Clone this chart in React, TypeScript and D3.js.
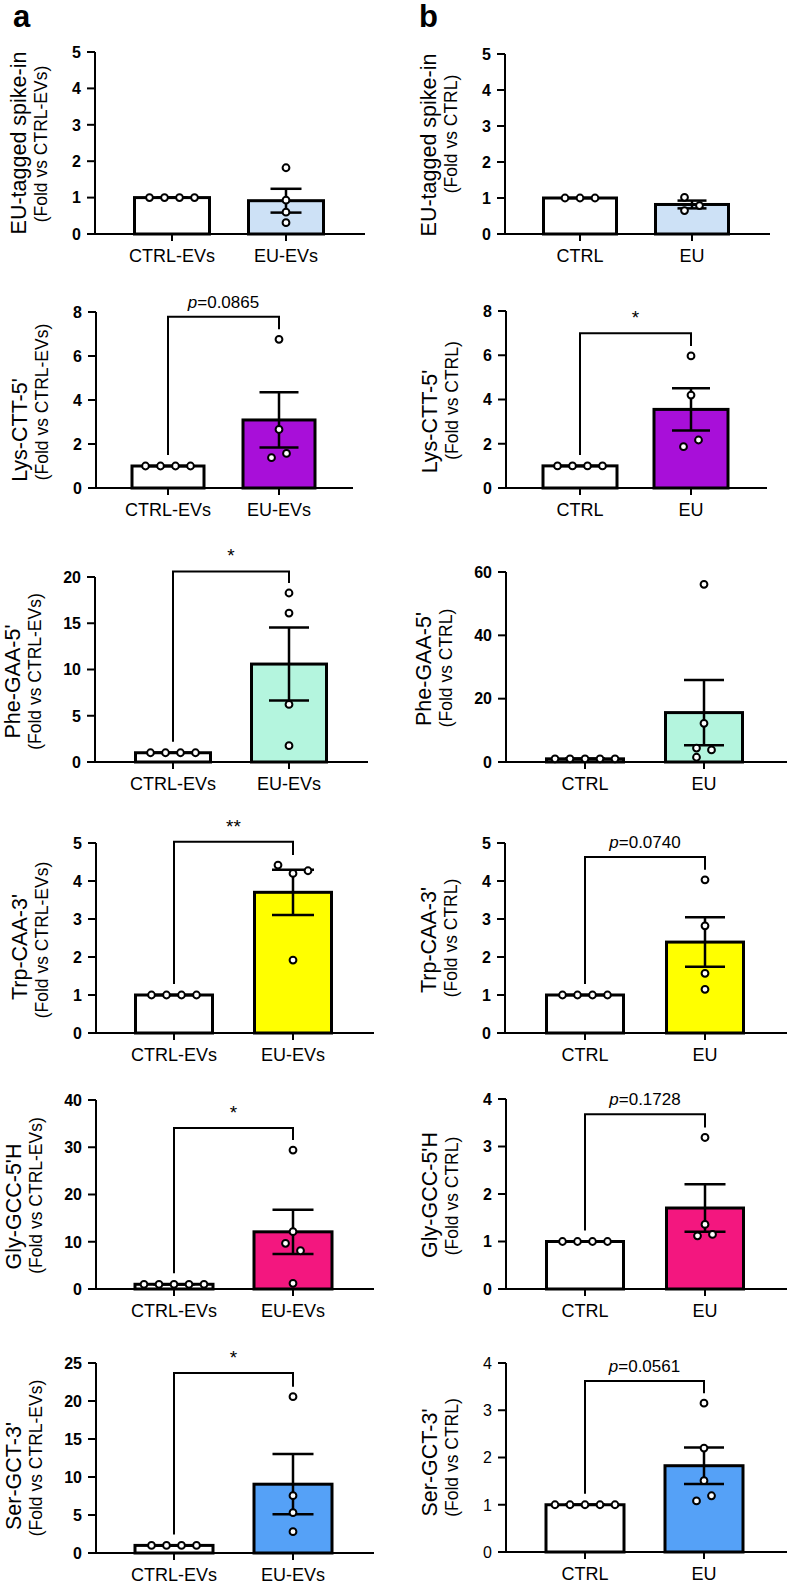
import React from "react";
import * as d3 from "d3";

// ---------------- DATA ----------------
const categoriesA = ["CTRL-EVs", "EU-EVs"];
const categoriesB = ["CTRL", "EU"];
const targets = ["EU-tagged spike-in", "Lys-CTT-5'", "Phe-GAA-5'", "Trp-CAA-3'", "Gly-GCC-5'H", "Ser-GCT-3'"];
const refLabelA = "(Fold vs CTRL-EVs)";
const refLabelB = "(Fold vs CTRL)";
const barColors = ["#cde1f6", "#a80fd9", "#b4f5de", "#ffff00", "#f3177f", "#55a1f7"];

const yMaxA = [5, 8, 20, 5, 40, 25];
const yStepA = [1, 2, 5, 1, 10, 5];
const yMaxB = [5, 8, 60, 5, 4, 4];
const yStepB = [1, 2, 20, 1, 1, 1];

const ctrlA = [
  [1, 1, 1, 1],
  [1, 1, 1, 1],
  [1, 1, 1, 1],
  [1, 1, 1, 1],
  [1, 1, 1, 1, 1],
  [1, 1, 1, 1],
];
const euA = [
  [1.82, 0.93, 0.6, 0.31],
  [6.76, 2.66, 1.38, 1.57],
  [18.27, 16.1, 6.22, 1.76],
  [4.42, 4.2, 4.27, 1.92],
  [29.4, 12.13, 9.67, 8.1, 1.2],
  [20.57, 7.54, 5.3, 2.8],
];
const ctrlB = [
  [1, 1, 1],
  [1, 1, 1, 1],
  [1, 1, 1, 1, 1],
  [1, 1, 1, 1],
  [1, 1, 1, 1],
  [1, 1, 1, 1, 1],
];
const euB = [
  [1.02, 0.79, 0.65],
  [5.97, 4.2, 1.87, 2.17],
  [56.1, 12.2, 4.4, 3.8, 1.5],
  [4.03, 2.82, 1.57, 1.15],
  [3.19, 1.36, 1.12, 1.15],
  [3.15, 2.2, 1.51, 1.08, 1.19],
];

const sigA = [null, "p=0.0865", "*", "**", "*", "*"];
const sigTopA = [null, 7.78, 20.6, 5.03, 34.1, 23.7];
const sigB = [null, "*", null, "p=0.0740", "p=0.1728", "p=0.0561"];
const sigTopB = [null, 7.0, null, 4.63, 3.68, 3.62];
const boldTicksB = [true, true, true, true, true, false];

// ---------------- LAYOUT ----------------
type Layout = {
  x0: number; xEnd: number; c1: number; c2: number; bw: number;
  yTop: number; yBot: number; capW: number; mainShift: number; subShift: number;
};
const layoutA: Layout[] = [
  { x0: 95, xEnd: 365, c1: 172, c2: 286, bw: 75, yTop: 52, yBot: 234, capW: 31, mainShift: 0, subShift: 1 },
  { x0: 96, xEnd: 353, c1: 168, c2: 279, bw: 72, yTop: 312, yBot: 488, capW: 39, mainShift: 30, subShift: 2 },
  { x0: 95, xEnd: 368, c1: 173, c2: 289, bw: 75, yTop: 577, yBot: 762, capW: 40, mainShift: 12, subShift: 2 },
  { x0: 96, xEnd: 374, c1: 174, c2: 293, bw: 77, yTop: 843, yBot: 1033, capW: 42, mainShift: 9, subShift: 2 },
  { x0: 96, xEnd: 374, c1: 174, c2: 293, bw: 78, yTop: 1100, yBot: 1289, capW: 41, mainShift: 12, subShift: 1 },
  { x0: 96, xEnd: 374, c1: 174, c2: 293, bw: 78, yTop: 1363, yBot: 1553, capW: 41, mainShift: 18, subShift: 0 },
];
const layoutB: Layout[] = [
  { x0: 505, xEnd: 770, c1: 580, c2: 692, bw: 73, yTop: 54, yBot: 234, capW: 29, mainShift: 1, subShift: -10 },
  { x0: 506, xEnd: 767, c1: 580, c2: 691, bw: 74, yTop: 311, yBot: 488, capW: 38, mainShift: 22, subShift: 1 },
  { x0: 506, xEnd: 790, c1: 585, c2: 704, bw: 77, yTop: 572, yBot: 762, capW: 40, mainShift: 2, subShift: 1 },
  { x0: 505, xEnd: 790, c1: 585, c2: 705, bw: 77, yTop: 843, yBot: 1033, capW: 40, mainShift: 2, subShift: 0 },
  { x0: 506, xEnd: 790, c1: 585, c2: 705, bw: 77, yTop: 1099, yBot: 1289, capW: 41, mainShift: 1, subShift: 2 },
  { x0: 506, xEnd: 790, c1: 585, c2: 704, bw: 78, yTop: 1363, yBot: 1552, capW: 40, mainShift: 5, subShift: 0 },
];

const FONT = "'Liberation Sans', Arial, Helvetica, sans-serif";

function swarmOffsets(ys: number[], thr: number, step: number): number[] {
  const n = ys.length;
  const off = new Array(n).fill(0);
  if (n === 0) return off;
  const idx = d3.range(n).sort((i, j) => ys[i] - ys[j]);
  const clusters: number[][] = [];
  let cur = [idx[0]];
  for (let k = 1; k < n; k++) {
    if (ys[idx[k]] - ys[idx[k - 1]] < thr) cur.push(idx[k]);
    else { clusters.push(cur); cur = [idx[k]]; }
  }
  clusters.push(cur);
  for (const cl of clusters) {
    if (cl.length === 1) continue;
    const sy = cl.map((i) => ys[i]).sort((a, b) => a - b);
    let kmax = 1;
    for (let i = 0; i < sy.length; i++) {
      let c = 0;
      for (let j = i; j < sy.length; j++) if (sy[j] - sy[i] < thr) c++;
      kmax = Math.max(kmax, c);
    }
    const colOff = d3.range(kmax).map((j) => (j - (kmax - 1) / 2) * step);
    const placed: number[][] = colOff.map(() => []);
    const members = [...cl].sort((a, b) => a - b);
    for (const m of members) {
      let c = placed.findIndex((col) => col.every((yy) => Math.abs(yy - ys[m]) >= thr));
      if (c < 0) {
        colOff.push((colOff.length - (kmax - 1) / 2) * step);
        placed.push([]);
        c = placed.length - 1;
      }
      placed[c].push(ys[m]);
      off[m] = colOff[c];
    }
  }
  return off;
}

type PanelProps = {
  L: Layout; categories: string[]; groups: number[][]; yMax: number; yStep: number;
  color: string; title: string; refLabel: string; sig: string | null; sigTop: number | null; boldTicks: boolean;
};

function Panel({ L, categories, groups, yMax, yStep, color, title, refLabel, sig, sigTop, boldTicks }: PanelProps) {
  const y = d3.scaleLinear().domain([0, yMax]).range([L.yBot, L.yTop]);
  const x = d3.scalePoint<string>().domain(categories).range([L.c1, L.c2]);
  const ticks = d3.range(0, yMax + yStep / 2, yStep);
  const twoDigit = String(yMax).length > 1;
  const subX = L.x0 - (twoDigit ? 54 : 48);
  const mainX = subX - 21;
  const mid = (L.yTop + L.yBot) / 2;

  const stats = groups.map((vals) => {
    const m = d3.mean(vals) ?? 0;
    const sd = d3.deviation(vals) ?? 0;
    return { mean: m, sem: sd / Math.sqrt(vals.length) };
  });

  const sigEl = (() => {
    if (!sig || sigTop == null) return null;
    const x1 = x(categories[0])!;
    const x2 = x(categories[1])!;
    const yt = y(sigTop);
    const yl = y(d3.max(groups[0])!) - 11;
    const yr = y(d3.max(groups[1])!) - 10;
    const isP = sig.startsWith("p");
    return (
      <g>
        <path d={`M${x1},${yl}V${yt}H${x2}V${yr}`} fill="none" stroke="#000" strokeWidth={2} />
        <text x={(x1 + x2) / 2} y={yt - 9} textAnchor="middle" fontSize={isP ? 17 : 19} fontFamily={FONT}>
          {isP ? (<><tspan fontStyle="italic">p</tspan>{sig.slice(1)}</>) : sig}
        </text>
      </g>
    );
  })();

  return (
    <g>
      {categories.map((c, i) => (
        <rect key={c} x={x(c)! - L.bw / 2} y={y(stats[i].mean)} width={L.bw}
          height={y(0) - y(stats[i].mean)} fill={i === 0 ? "#fff" : color} stroke="#000" strokeWidth={3} />
      ))}
      <line x1={L.x0} x2={L.x0} y1={L.yTop} y2={L.yBot} stroke="#000" strokeWidth={2} />
      {ticks.map((t) => (
        <g key={t}>
          <line x1={L.x0 - 8} x2={L.x0} y1={y(t)} y2={y(t)} stroke="#000" strokeWidth={2} />
          <text x={L.x0 - 14} y={y(t)} dy="0.36em" textAnchor="end" fontSize={16}
            fontWeight={boldTicks ? "bold" : "normal"} fontFamily={FONT}>{t}</text>
        </g>
      ))}
      <line x1={L.x0 - 8} x2={L.xEnd} y1={L.yBot} y2={L.yBot} stroke="#000" strokeWidth={2} />
      {categories.map((c) => (
        <g key={c}>
          <line x1={x(c)} x2={x(c)} y1={L.yBot} y2={L.yBot + 7} stroke="#000" strokeWidth={2} />
          <text x={x(c)} y={L.yBot + 28} textAnchor="middle" fontSize={18} fontFamily={FONT}>{c}</text>
        </g>
      ))}
      {categories.map((c, i) => {
        const cx = x(c)!;
        const { mean, sem } = stats[i];
        const yu = y(mean + sem), yd = y(mean - sem);
        return (
          <g key={c} stroke="#000" strokeWidth={2.5}>
            <line x1={cx} x2={cx} y1={yu} y2={yd} />
            <line x1={cx - L.capW / 2} x2={cx + L.capW / 2} y1={yu} y2={yu} />
            <line x1={cx - L.capW / 2} x2={cx + L.capW / 2} y1={yd} y2={yd} />
          </g>
        );
      })}
      {categories.map((c, i) => {
        const ys = groups[i].map((v) => y(v));
        const offs = swarmOffsets(ys, 8.8, 15);
        return groups[i].map((v, k) => (
          <circle key={c + k} cx={x(c)! + offs[k]} cy={y(v)} r={3.4} fill="#fff" stroke="#000" strokeWidth={2} />
        ));
      })}
      {sigEl}
      <text transform={`translate(${mainX},${mid + L.mainShift}) rotate(-90)`} textAnchor="middle"
        fontSize={21.5} fontFamily={FONT}>{title}</text>
      <text transform={`translate(${subX},${mid + L.subShift}) rotate(-90)`} textAnchor="middle"
        fontSize={17.5} fontFamily={FONT}>{refLabel}</text>
    </g>
  );
}

export default function App() {
  return (
    <svg width={787} height={1585} viewBox="0 0 787 1585"
      style={{ position: "absolute", left: 0, top: 0, background: "#fff" }}>
      <rect x={0} y={0} width={787} height={1585} fill="#fff" />
      <text x={13} y={27} fontSize={31} fontWeight="bold" fontFamily={FONT}>a</text>
      <text x={419} y={27} fontSize={31} fontWeight="bold" fontFamily={FONT}>b</text>
      {targets.map((t, i) => (
        <Panel key={"a" + i} L={layoutA[i]} categories={categoriesA} groups={[ctrlA[i], euA[i]]}
          yMax={yMaxA[i]} yStep={yStepA[i]} color={barColors[i]} title={t} refLabel={refLabelA}
          sig={sigA[i]} sigTop={sigTopA[i]} boldTicks={true} />
      ))}
      {targets.map((t, i) => (
        <Panel key={"b" + i} L={layoutB[i]} categories={categoriesB} groups={[ctrlB[i], euB[i]]}
          yMax={yMaxB[i]} yStep={yStepB[i]} color={barColors[i]} title={t} refLabel={refLabelB}
          sig={sigB[i]} sigTop={sigTopB[i]} boldTicks={boldTicksB[i]} />
      ))}
    </svg>
  );
}
